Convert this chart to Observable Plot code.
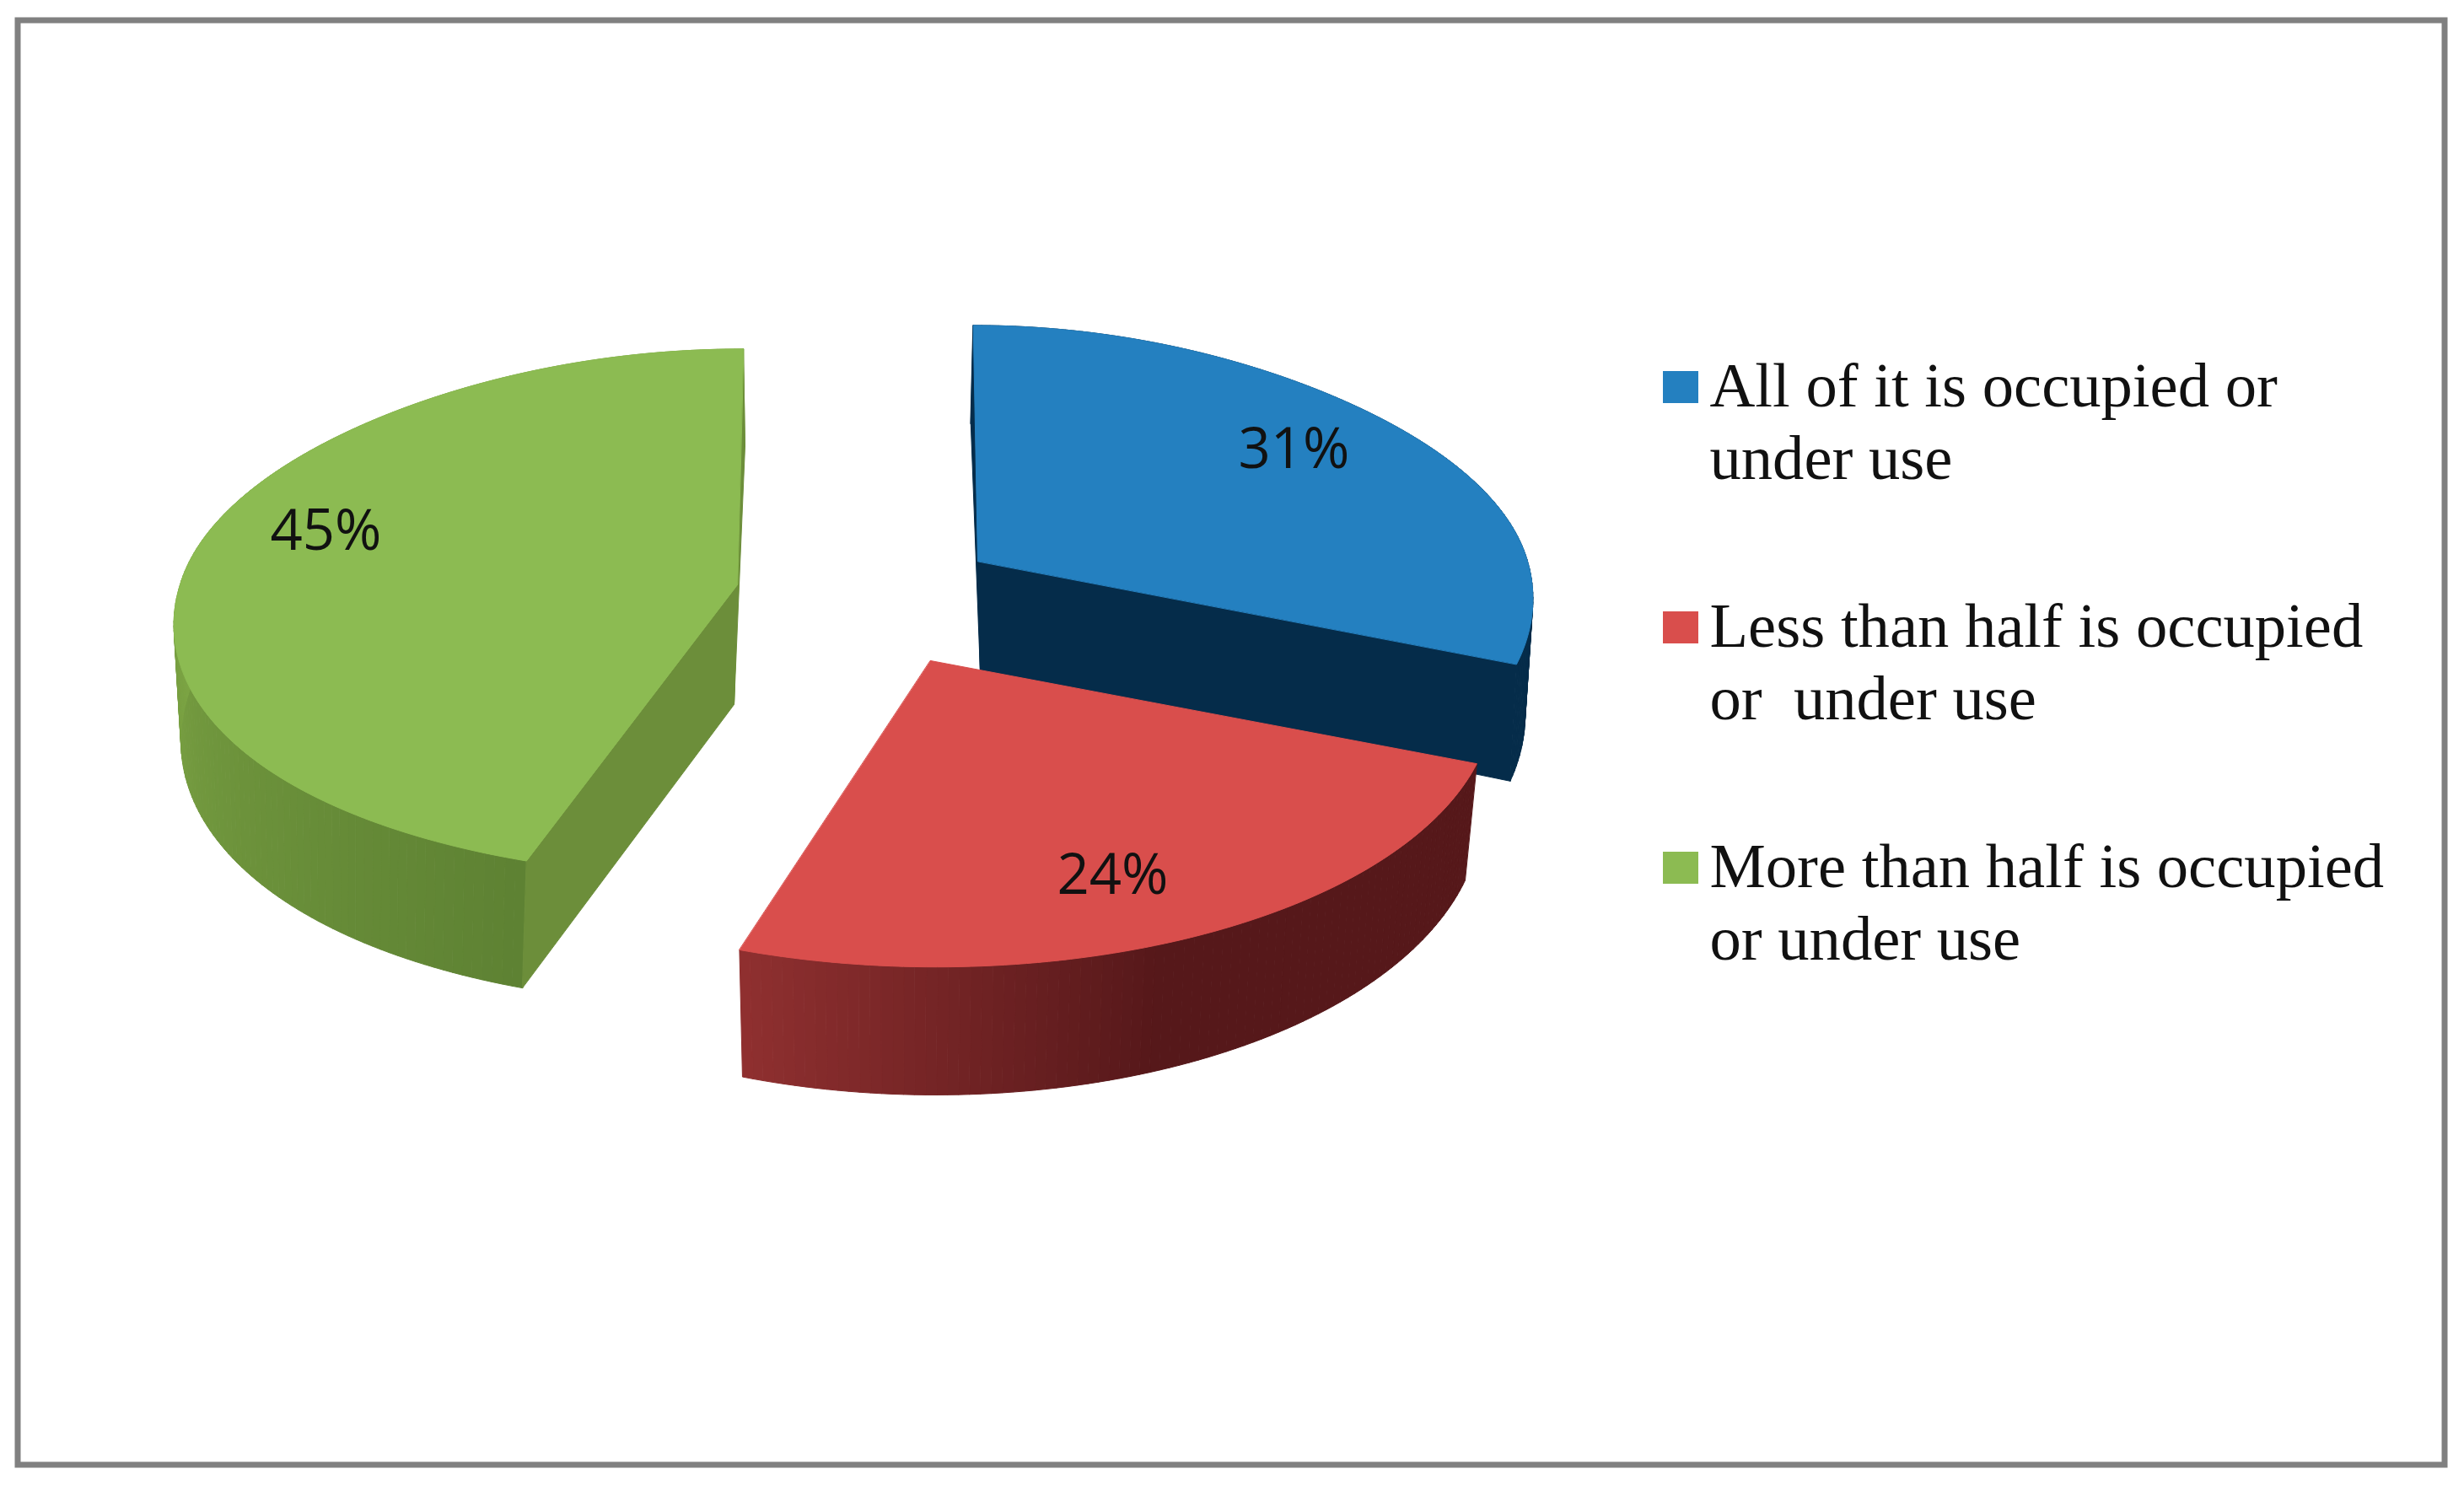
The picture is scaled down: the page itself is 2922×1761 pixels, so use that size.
<!DOCTYPE html>
<html>
<head>
<meta charset="utf-8">
<script src="https://cdn.jsdelivr.net/npm/d3@7"></script>
<script src="https://cdn.jsdelivr.net/npm/@observablehq/plot@0.6"></script>
<style>
  html, body { margin: 0; padding: 0; background: #fff; }
  svg text { white-space: pre; }
</style>
</head>
<body>
<div id="chart"></div>
<script>
// Data
const categories = [
  "All of it is occupied or\nunder use",
  "Less than half is occupied\nor  under use",
  "More than half is occupied\nor under use"
];
const shares = [31, 24, 45];
const valueLabels = ["31%", "24%", "45%"];

// Styles
const topColors = ["#2480c0", "#d94e4c", "#8cbb52"];
const wallColors = ["#052c4a", "#56181a", "#6c8e3a"];
const rimStart = ["#052c4a", "#56181a", "#5e8233"];
const rimEnd = ["#052c4a", "#903030", "#7ca444"];

// Layout (pixels of the 2922x1761 canvas)
const W = 2922, H = 1761;
const RY = 316, K = 0.13, DEPTH = 132, NARROW = 0.98;
const sliceLayout = [
  {cx: 1159, cy: 665, rx: 652, tilt: -6, shift: 3, bottomTilt: -6, front: 1, frontX: 0, apexDepth: 132, diamond: 0.02, walls: [true, true]},
  {cx: 1103, cy: 783, rx: 661, tilt: -6, shift: -1, bottomTilt: 0, front: 1, frontX: 0, apexDepth: 132, diamond: 0, walls: [false, false]},
  {cx: 874, cy: 693, rx: 661, tilt: 8, shift: -4, bottomTilt: 6, front: 0.955, frontX: 0.04, apexDepth: 142, diamond: 0.015, walls: [true, true]}
];
const labelX = [1534, 1319, 386];
const labelY = [533, 1038, 630];
const legendTextX = 2027;
const legendY = [497, 782, 1067];
const swatchOffset = -57;
const swatchX = [1972, 2014];
const swatchH = 38;

const turn = 2 * Math.PI;
const total = d3.sum(shares);
const starts = d3.cumsum([0, ...shares]).map((d) => (d / total) * turn);

function topPoint(s, a, r = 1) {
  const c = Math.cos(a);
  const p = 1 / (1 + K * c);
  const q = r * (c > 0 ? 1 - s.diamond * Math.sin(2 * a) ** 2 : 1 + s.frontX * c * c);
  return [
    s.cx + (q * s.rx * Math.sin(a) + r * s.tilt * c) * p,
    s.cy - r * (c > 0 ? 1 - s.diamond * Math.sin(2 * a) ** 2 : s.front) * RY * c * p
  ];
}
function bottomPoint(s, a, r = 1) {
  const p = 1 / (1 + K * Math.cos(a));
  const [x, y] = topPoint(s, a, r);
  return [
    s.cx + s.shift + (x - s.cx) * NARROW + r * s.bottomTilt * Math.cos(a),
    y + (r === 0 ? s.apexDepth : DEPTH * p)
  ];
}

// Build polygons, painted back to front, from the shares
const rows = [];
let nextId = 0;
function polygon(points, color) {
  const id = nextId++;
  for (const [x, y] of points) rows.push({id, x, y, color});
}
function radialWall(s, a, color) {
  polygon([topPoint(s, a), topPoint(s, a, 0), bottomPoint(s, a, 0), bottomPoint(s, a)], color);
}
function sliceFaces(i) {
  const s = sliceLayout[i], a0 = starts[i], a1 = starts[i + 1];
  const steps = Math.round(((a1 - a0) / turn) * 360);
  const mix = d3.interpolateRgb(rimStart[i], rimEnd[i]);
  // curved rim, one strip per degree
  for (let k = 0; k < steps; ++k) {
    const u = a0 + ((a1 - a0) * k) / steps;
    const v = a0 + ((a1 - a0) * (k + 1)) / steps;
    let t;
    if (i === 1) t = Math.max(0, ((u - a0) / (a1 - a0) - 0.55) / 0.45);
    else if (i === 2) t = Math.min(1, ((u - a0) / (a1 - a0)) / 0.45);
    else t = 0;
    polygon([topPoint(s, u), topPoint(s, v), bottomPoint(s, v), bottomPoint(s, u)], mix(t));
  }
  // radial walls that face the viewer
  if (s.walls[0]) radialWall(s, a0, wallColors[i]);
  if (s.walls[1]) radialWall(s, a1, wallColors[i]);
  // top face
  const face = [topPoint(s, a0, 0)];
  for (let k = 0; k <= steps; ++k) face.push(topPoint(s, a0 + ((a1 - a0) * k) / steps));
  polygon(face, topColors[i]);
}
[2, 0, 1].forEach(sliceFaces);

const valueRows = shares.map((v, i) => ({label: valueLabels[i], x: labelX[i], y: labelY[i]}));
const legendRows = categories.map((c, i) => ({label: c, y: legendY[i], color: topColors[i]}));
const swatchRows = categories.map((c, i) => ({y: legendY[i] + swatchOffset, color: topColors[i]}));

const chart = Plot.plot({
  width: W,
  height: H,
  margin: 0,
  style: {background: "#fff"},
  x: {domain: [0, W], range: [0, W], axis: null},
  y: {domain: [0, H], range: [0, H], axis: null},
  color: {type: "identity"},
  marks: [
    Plot.rect([{}], {x1: 21, x2: 2899, y1: 24, y2: 1737, fill: "none", stroke: "#808080", strokeWidth: 7}),
    Plot.line(rows, {x: "x", y: "y", z: "id", fill: "color", stroke: "color", strokeWidth: 1, curve: "linear-closed"}),
    Plot.text(valueRows, {x: "x", y: "y", text: "label", fontFamily: "Open Sans", fontSize: 67, fill: "#111"}),
    Plot.rect(swatchRows, {x1: swatchX[0], x2: swatchX[1], y1: "y", y2: (d) => d.y + swatchH, fill: "color"}),
    Plot.text(legendRows, {x: legendTextX, y: "y", text: "label", textAnchor: "start", lineAnchor: "middle",
      lineHeight: 1.153, fontFamily: "Liberation Serif", fontSize: 74.6, fill: "#111"})
  ]
});
document.getElementById("chart").appendChild(chart);
</script>
</body>
</html>
